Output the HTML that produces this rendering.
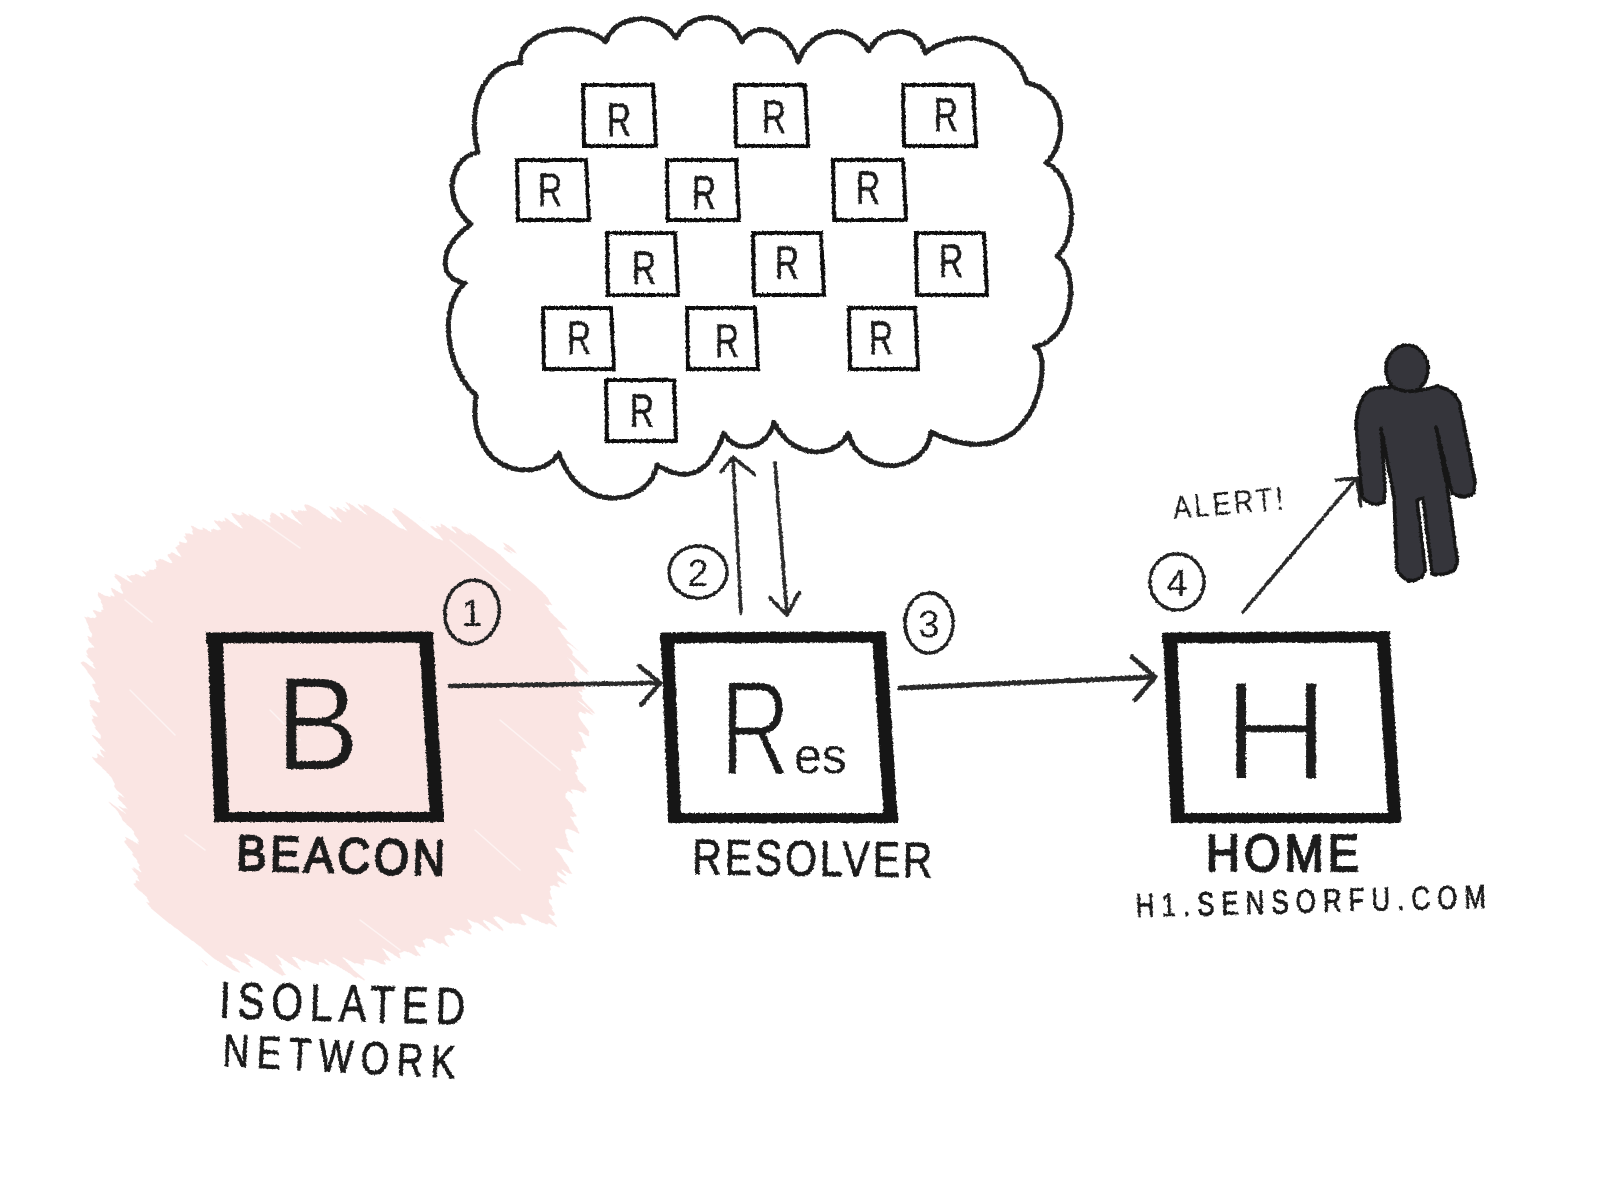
<!DOCTYPE html>
<html lang="en">
<head>
<meta charset="utf-8">
<title>Beacon, Resolver and Home diagram</title>
<style>
html,body{margin:0;padding:0;background:#fff;width:1600px;height:1200px;overflow:hidden}
svg{display:block}
text{font-family:"Liberation Sans",sans-serif;fill:#1d1d1d}
.lbl{font-weight:400;stroke:#1d1d1d;stroke-width:2.2}
.thin{font-weight:400;stroke:#1d1d1d;stroke-width:.9}
.r{font-size:47px;text-anchor:middle;fill:#1d1d1d;stroke:#1d1d1d;stroke-width:.5}
.num{font-size:38px;text-anchor:middle}
</style>
</head>
<body>
<svg width="1600" height="1200" viewBox="0 0 1600 1200" xmlns="http://www.w3.org/2000/svg">
<defs>
<filter id="rough" x="-10%" y="-10%" width="120%" height="120%">
<feTurbulence type="fractalNoise" baseFrequency=".45" numOctaves="2" seed="4" result="n"/>
<feDisplacementMap in="SourceGraphic" in2="n" scale="3" xChannelSelector="R" yChannelSelector="G"/>
</filter>
<filter id="streak" x="-15%" y="-15%" width="130%" height="130%">
<feTurbulence type="fractalNoise" baseFrequency=".012 .11" numOctaves="3" seed="9" result="n"/>
<feDisplacementMap in="SourceGraphic" in2="n" scale="42" xChannelSelector="R" yChannelSelector="G"/>
</filter>
</defs>
<rect width="1600" height="1200" fill="#fff"/>

<!-- Isolated network wash -->
<g transform="rotate(40 330 740)" filter="url(#streak)">
<path transform="rotate(-40 330 740)" fill="#fae5e3" d="M86,630 L102,595 L149,571 L208,524 L260,518 L323,508 L441,526 L504,551 L560,626 L583,690 L579,753 L568,840 L548,923 L516,923 L470,925 L414,950 L362,966 L275,966 L216,962 L153,911 L137,875 L129,832 L100,757 L94,690 Z"/>
</g>
<g stroke="#fff" stroke-opacity=".55" stroke-width="1.5" stroke-linecap="round">
<path d="M125,600 L152,622 M270,710 L300,740 M185,835 L205,850 M450,540 L510,590 M500,720 L560,770 M260,520 L300,548 M360,920 L400,950 M130,690 L175,735 M475,830 L520,870"/>
</g>

<!-- Cloud -->
<path filter="url(#rough)" fill="none" stroke="#222" stroke-width="5" stroke-linejoin="round" d="M521,63 C515,35 575,15 606,42 C610,20 655,5 676,38 C690,10 730,10 742,42 C750,25 785,20 798,62 C810,28 850,20 869,51 C880,25 920,25 925,53 C955,30 1010,30 1027,83 C1065,90 1070,140 1046,163 C1075,175 1080,235 1057,256 C1080,270 1075,340 1034,347 C1055,350 1040,485 931,432 C925,475 860,478 848,433 C840,455 795,465 774,422 C768,450 735,455 724,433 C712,465 695,488 657,465 C650,505 580,517 559,453 C540,485 465,475 476,395 C450,375 435,310 465,283 C440,280 435,250 471,224 C445,205 445,160 478,152 C465,100 490,60 521,63 Z"/>

<!-- Small resolver boxes -->
<g filter="url(#rough)" fill="none" stroke="#111" stroke-width="4">
<polygon points="583,85 653,85 656,146 584,146"/>
<polygon points="735,85 805,85 808,146 736,146"/>
<polygon points="903,85 973,85 976,146 904,146"/>
<polygon points="517,160 586,160 589,220 518,220"/>
<polygon points="667,160 736,160 739,220 668,220"/>
<polygon points="833,160 903,160 906,220 834,220"/>
<polygon points="607,233 675,233 678,295 608,295"/>
<polygon points="753,233 821,233 824,295 754,295"/>
<polygon points="916,233 984,233 987,295 917,295"/>
<polygon points="543,308 611,308 614,369 544,369"/>
<polygon points="687,308 755,308 758,369 688,369"/>
<polygon points="849,308 915,308 918,369 850,369"/>
<polygon points="606,380 674,380 676,441 607,441"/>
</g>
<g filter="url(#rough)">
<text class="r" transform="translate(619,136) scale(.72,1)">R</text>
<text class="r" transform="translate(774,133) scale(.72,1)">R</text>
<text class="r" transform="translate(946,131) scale(.72,1)">R</text>
<text class="r" transform="translate(550,206) scale(.72,1)">R</text>
<text class="r" transform="translate(704,209) scale(.72,1)">R</text>
<text class="r" transform="translate(868,204) scale(.72,1)">R</text>
<text class="r" transform="translate(644,284) scale(.72,1)">R</text>
<text class="r" transform="translate(787,279) scale(.72,1)">R</text>
<text class="r" transform="translate(951,277) scale(.72,1)">R</text>
<text class="r" transform="translate(579,354) scale(.72,1)">R</text>
<text class="r" transform="translate(727,357) scale(.72,1)">R</text>
<text class="r" transform="translate(881,354) scale(.72,1)">R</text>
<text class="r" transform="translate(642,427) scale(.72,1)">R</text>
</g>

<!-- Main boxes -->
<g filter="url(#rough)" fill="none" stroke="#141414" stroke-linecap="butt">
<path stroke-width="11" d="M206,638 L433,637"/>
<path stroke-width="15" d="M215,633 L222,822"/>
<path stroke-width="14" d="M426,633 L437,822"/>
<path stroke-width="10" d="M214,817 L444,817"/>

<path stroke-width="11" d="M660,638 L886,637"/>
<path stroke-width="13" d="M667,633 L675,823"/>
<path stroke-width="14" d="M879,633 L891,823"/>
<path stroke-width="10" d="M668,818 L898,818"/>

<path stroke-width="11" d="M1162,638 L1390,637"/>
<path stroke-width="14" d="M1170,633 L1178,823"/>
<path stroke-width="13" d="M1383,633 L1395,823"/>
<path stroke-width="10" d="M1171,818 L1401,818"/>
</g>

<!-- Main letters -->
<g filter="url(#rough)">
<text font-size="134" transform="translate(275,770) scale(.95,1)" stroke="#fae5e3" stroke-width="2">B</text>
<text font-size="136" transform="translate(720,775) scale(.72,1)" stroke="#fff" stroke-width="3">R</text>
<text font-size="50" x="794" y="773">es</text>
<text font-size="143" text-anchor="middle" transform="translate(1276,780) scale(1.05,1)" stroke="#fff" stroke-width="4">H</text>
</g>

<!-- Labels -->
<g filter="url(#rough)">
<text class="lbl" font-size="50" transform="translate(236,870) rotate(1.5) scale(.9,1)" textLength="232" lengthAdjust="spacing">BEACON</text>
<text class="thin" font-size="50" transform="translate(692,874) rotate(.8) scale(.82,1)" textLength="293" lengthAdjust="spacing">RESOLVER</text>
<text class="lbl" font-size="52" transform="translate(1206,871) scale(.9,1)" textLength="170" lengthAdjust="spacing">HOME</text>
<text class="thin" font-size="33" transform="translate(1136,917) rotate(-1.5) scale(.78,1)" textLength="449" lengthAdjust="spacing">H1.SENSORFU.COM</text>
<text class="thin" font-size="52" transform="translate(219,1018) rotate(1.5) scale(.78,1)" textLength="315" lengthAdjust="spacing">ISOLATED</text>
<text class="thin" font-size="46" transform="translate(222,1066) rotate(3) scale(.8,1)" textLength="291" lengthAdjust="spacing">NETWORK</text>
<text font-size="32" transform="translate(1174,519) rotate(-5) scale(.85,1)" textLength="130" lengthAdjust="spacing">ALERT!</text>
</g>

<!-- Step circles -->
<g filter="url(#rough)" fill="none" stroke="#222" stroke-width="3.5">
<ellipse cx="472" cy="612" rx="27" ry="32" transform="rotate(10 472 612)"/>
<ellipse cx="698" cy="572" rx="29" ry="26"/>
<ellipse cx="929" cy="623" rx="24" ry="30"/>
<ellipse cx="1177" cy="582" rx="27" ry="28"/>
</g>
<g filter="url(#rough)">
<text class="num" x="472" y="626">1</text>
<text class="num" x="698" y="586">2</text>
<text class="num" x="929" y="637">3</text>
<text class="num" x="1177" y="596">4</text>
</g>

<!-- Connectors -->
<g filter="url(#rough)" fill="none" stroke="#2a2a2a" stroke-linecap="round" stroke-linejoin="round">
<path stroke-width="4.5" d="M450,686 L660,683 M639,666 L660,683 L641,705"/>
<path stroke-width="5" d="M900,688 L1155,677 M1132,657 L1155,677 L1135,700"/>
<path stroke-width="3.5" d="M741,613 L733,457 M721,472 L733,457 L755,475"/>
<path stroke-width="3.5" d="M775,463 L787,615 M770,598 L787,615 L799,593"/>
<path stroke-width="3.5" d="M1243,612 L1357,478 M1336,480 L1357,478 L1361,506"/>
</g>

<!-- Person -->
<g filter="url(#rough)" fill="#35363a" stroke="#121212" stroke-width="3.5" stroke-linejoin="round">
<ellipse cx="1407" cy="369" rx="21" ry="24"/>
<path d="M1376,388 Q1358,392 1356,425 L1362,497 Q1372,508 1384,502 L1385,487 L1381,428 L1394,497 L1397,570 Q1405,584 1416,580 Q1426,576 1425,567 L1417,500 L1423,498 L1432,574 Q1445,576 1454,570 Q1458,564 1457,558 L1447,487 L1436,427 L1452,493 Q1464,500 1474,493 L1475,482 L1460,405 Q1456,390 1437,386 Q1410,396 1393,387 Z"/>
</g>
</svg>
</body>
</html>
